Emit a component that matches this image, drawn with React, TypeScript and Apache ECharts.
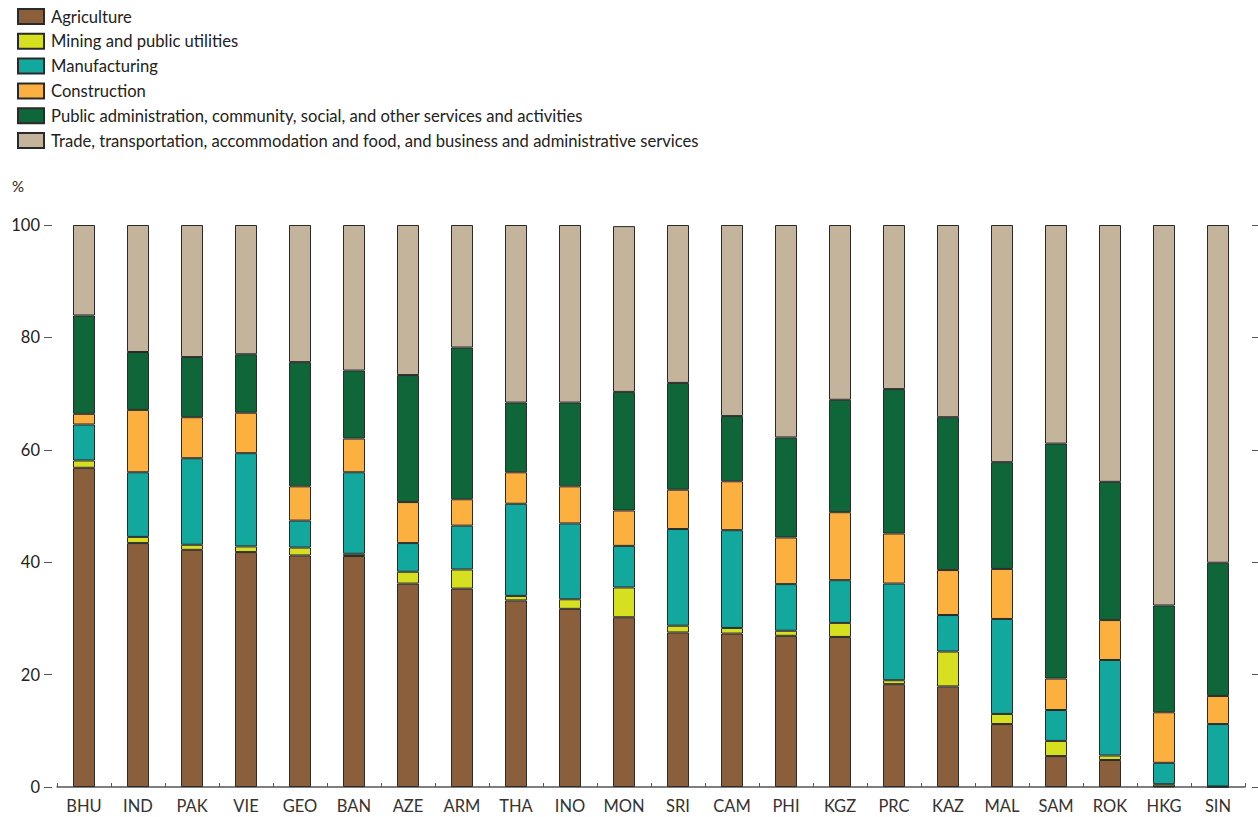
import React, { useEffect, useRef } from "react";
import * as echarts from "echarts";

const categories = ["BHU", "IND", "PAK", "VIE", "GEO", "BAN", "AZE", "ARM", "THA", "INO", "MON", "SRI", "CAM", "PHI", "KGZ", "PRC", "KAZ", "MAL", "SAM", "ROK", "HKG", "SIN"];

const agriculture = [56.8, 43.4, 42.2, 41.8, 41.2, 41.1, 36.2, 35.3, 33.2, 31.7, 30.2, 27.5, 27.3, 26.9, 26.7, 18.3, 17.9, 11.2, 5.5, 4.8, 0.1, 0.0];
const mining = [1.3, 1.1, 0.9, 1.0, 1.4, 0.4, 2.1, 3.4, 0.8, 1.7, 5.3, 1.2, 1.0, 0.9, 2.5, 0.7, 6.2, 1.8, 2.7, 0.8, 0.4, 0.1];
const manufacturing = [6.4, 11.5, 15.4, 16.6, 4.8, 14.5, 5.1, 7.8, 16.4, 13.5, 7.4, 17.2, 17.4, 8.3, 7.6, 17.2, 6.5, 16.9, 5.5, 17.0, 3.8, 11.1];
const construction = [1.9, 11.1, 7.3, 7.2, 6.1, 6.0, 7.3, 4.7, 5.6, 6.6, 6.3, 7.0, 8.7, 8.3, 12.1, 8.9, 8.0, 8.9, 5.6, 7.1, 9.0, 5.0];
const publicAdmin = [17.5, 10.3, 10.7, 10.4, 22.1, 12.1, 22.6, 27.0, 12.4, 14.9, 21.1, 19.0, 11.6, 17.8, 20.0, 25.7, 27.2, 19.0, 41.8, 24.6, 19.0, 23.7];
const trade = [16.1, 22.6, 23.5, 23.0, 24.4, 25.9, 26.7, 21.8, 31.6, 31.6, 29.5, 28.1, 34.0, 37.8, 31.1, 29.2, 34.2, 42.2, 38.9, 45.7, 67.7, 60.1];

const seriesNames = [
  "Agriculture",
  "Mining and public utilities",
  "Manufacturing",
  "Construction",
  "Public administration, community, social, and other services and activities",
  "Trade, transportation, accommodation and food, and business and administrative services",
];
const seriesData = [agriculture, mining, manufacturing, construction, publicAdmin, trade];
const colors = ["#8B5E3C", "#D6E021", "#12A89D", "#FBB040", "#0E6639", "#C4B49C"];

const FONT = "Lato, 'Open Sans', sans-serif";

export default function App() {
  const ref = useRef<HTMLDivElement>(null);
  useEffect(() => {
    if (!ref.current) return;
    const chart = echarts.init(ref.current, undefined, { renderer: "svg" });
    chart.setOption({
      animation: false,
      textStyle: { fontFamily: FONT },
      legend: {
        orient: "vertical",
        left: 12,
        top: 3,
        icon: "rect",
        itemWidth: 26,
        itemHeight: 15,
        itemGap: 7.8,
        selectedMode: false,
        textStyle: { fontFamily: FONT, fontSize: 16.6, color: "#222", lineHeight: 17, padding: [0, 0, 0, 2] },
        data: seriesNames,
      },
      graphic: [
        {
          type: "text",
          left: 12,
          top: 178,
          style: { text: "%", fontFamily: FONT, fontSize: 15, fill: "#222" },
        },
      ],
      grid: { left: 57, right: 13, top: 225, bottom: 30, containLabel: false },
      xAxis: {
        type: "category",
        data: categories,
        axisLine: { show: true, lineStyle: { color: "#555", width: 1.5 } },
        axisTick: { show: true, inside: true, length: 4, lineStyle: { color: "#555" } },
        axisLabel: { color: "#333", fontSize: 16.5, fontFamily: FONT, margin: 10 },
      },
      yAxis: [
        {
          type: "value",
          min: 0,
          max: 100,
          interval: 20,
          offset: 5,
          position: "left",
          axisLine: { show: false },
          axisTick: { show: true, length: 8, lineStyle: { color: "#555" } },
          axisLabel: { color: "#222", fontSize: 16.5, fontFamily: FONT, margin: 12 },
          splitLine: { show: false },
        },
        {
          type: "value",
          min: 0,
          max: 100,
          interval: 20,
          offset: 7,
          position: "right",
          axisLine: { show: false },
          axisTick: { show: true, length: 8, lineStyle: { color: "#555" } },
          axisLabel: { show: false },
          splitLine: { show: false },
        },
      ],
      series: seriesNames.map((name, i) => ({
        name,
        type: "bar",
        stack: "total",
        barWidth: 22,
        yAxisIndex: 0,
        data: seriesData[i],
        itemStyle: { color: colors[i], borderColor: "#2a2a2a", borderWidth: 1 },
      })),
    });
    return () => chart.dispose();
  }, []);
  return <div ref={ref} style={{ position: "fixed", left: 0, top: 0, width: 1258, height: 817, background: "#fff" }} />;
}
